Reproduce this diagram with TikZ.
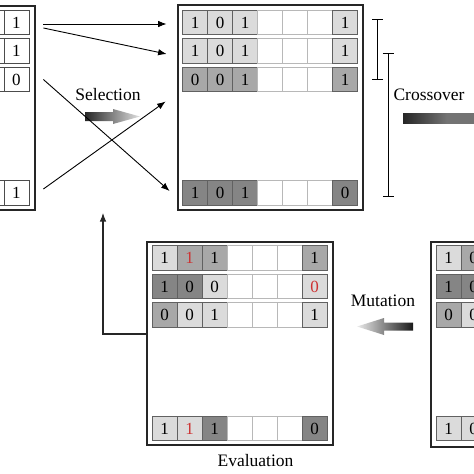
\documentclass[tikz,border=0pt]{standalone}
\usepackage{fontspec}
\setmainfont{Liberation Serif}
\usepackage{xcolor}
\usetikzlibrary{positioning}
\usetikzlibrary{arrows.meta}
\definecolor{lightcell}{gray}{0.86}
\definecolor{midcell}{gray}{0.66}
\definecolor{darkcell}{gray}{0.52}
\definecolor{mutred}{RGB}{205,50,50}
\newcommand{\flip}[1]{\textcolor{mutred}{#1}}
\newcommand{\cellrow}[4]{%
  \foreach \s/\t [count=\c] in {#4} {\node[\s] (#1\c) at ({#2+25*\c}, #3) {\t};}}
\tikzset{
  cell/.style={minimum width=25pt, minimum height=24.5pt, inner sep=0pt, line width=0.8pt,
    font=\fontsize{17}{17}\selectfont},
  wc/.style={cell, draw=black!28, fill=white},
  lc/.style={cell, draw=black!62, fill=lightcell},
  mc/.style={cell, draw=black!62, fill=midcell},
  dc/.style={cell, draw=black!62, fill=darkcell},
  pc/.style={cell, draw=black!70, fill=white},
  panel/.style={draw=black!85, line width=1.3pt, minimum width=185pt, minimum height=204pt, inner sep=0pt},
  optext/.style={font=\fontsize{17.5}{20}\selectfont, anchor=base, inner sep=0pt},
  bracket/.style={line width=1pt, {Bar[width=11pt]}-{Bar[width=11pt]}},
}

\begin{document}
\begin{tikzpicture}[x=1pt, y=-1pt, >={Latex[length=8.5pt,width=6.5pt]}]
		\useasboundingbox (0,0) rectangle (474,474);
		\clip (0,0) rectangle (474,474);
		
		% populations
		\node[panel] (parents) at (-57.5, 108) {};
		\node[panel, minimum height=205pt] (crossed) at (270.5, 107.5) {};
		\node[panel, minimum width=186pt, minimum height=203pt] (evaluated) at (240, 343.5) {};
		\node[panel, minimum height=205pt] (mutated) at (523.5, 344.5) {};
		
		\cellrow{l1}{-158.5}{22.5}{pc/{},pc/{},pc/{},pc/{},pc/{},pc/{},pc/1}
		\cellrow{l2}{-158.5}{51}{pc/{},pc/{},pc/{},pc/{},pc/{},pc/{},pc/1}
		\cellrow{l3}{-158.5}{79.5}{pc/{},pc/{},pc/{},pc/{},pc/{},pc/{},pc/0}
		\cellrow{l4}{-158.5}{193}{pc/{},pc/{},pc/{},pc/{},pc/{},pc/{},pc/1}
		
		\cellrow{t1}{170.2}{22.5}{lc/1,lc/0,lc/1,wc/{},wc/{},wc/{},lc/1}
		\cellrow{t2}{170.2}{51}{lc/1,lc/0,lc/1,wc/{},wc/{},wc/{},lc/1}
		\cellrow{t3}{170.2}{79.5}{mc/0,mc/0,mc/1,wc/{},wc/{},wc/{},mc/1}
		\cellrow{t4}{170.2}{193}{dc/1,dc/0,dc/1,wc/{},wc/{},wc/{},dc/0}
		
		\cellrow{e1}{139.5}{258}{lc/1,mc/\flip{1},mc/1,wc/{},wc/{},wc/{},mc/1}
		\cellrow{e2}{139.5}{286.5}{dc/1,dc/0,lc/0,wc/{},wc/{},wc/{},lc/\flip{0}}
		\cellrow{e3}{139.5}{315}{mc/0,lc/0,lc/1,wc/{},wc/{},wc/{},lc/1}
		\cellrow{e4}{139.5}{428.5}{lc/1,lc/\flip{1},dc/1,wc/{},wc/{},wc/{},dc/0}
		
		\cellrow{m1}{423.5}{258}{lc/1,mc/0}
		\cellrow{m2}{423.5}{286.5}{dc/1,dc/0}
		\cellrow{m3}{423.5}{315}{mc/0,lc/0}
		\cellrow{m4}{423.5}{428.5}{lc/1,lc/0}
		
		% operators
		\node[optext] (sel) at (108, 100) {Selection};
		\node[optext] (cro) at (429, 100.7) {Crossover};
		\node[optext] (mut) at (383, 306) {Mutation};
		\node[optext] (eva) at (255.5, 466.7) {Evaluation};
		
		\shade[left color=black!85, right color=black!12] (85,112) -- (113,112) -- (113,109) -- (140,116.5)
			-- (113,124) -- (113,121) -- (85,121) -- cycle;
		\shade[left color=black!85, right color=black!55, middle color=black!55] (403,113) -- (490,113)
			-- (490,123) -- (403,123) -- cycle;
		\shade[left color=black!8, right color=black!90] (357,326.5) -- (384,318) -- (384,322.5) -- (413,322.5)
			-- (413,330.5) -- (384,330.5) -- (384,335) -- cycle;
		
		% selection
		\draw[->, line width=0.9pt] ([xshift=14pt, yshift=-1.5pt]l17.east) to ([xshift=-15.7pt, yshift=-1.5pt]t11.west);
		\draw[->, line width=0.9pt] ([xshift=14pt, yshift=-5.5pt]l17.east) to ([xshift=-15.7pt, yshift=-3pt]t21.west);
		\draw[->, line width=0.9pt] ([xshift=14pt]l37.east) to ([xshift=-12.7pt, yshift=2pt]t41.west);
		\draw[->, line width=0.9pt] ([xshift=14pt, yshift=4pt]l47.east) to ([xshift=-16.7pt, yshift=-22pt]t31.west);
		
		% crossover pairs
		\draw[bracket] ([xshift=19.5pt, yshift=3.5pt]t17.east) to ([xshift=19.5pt, yshift=-0.5pt]t37.east);
		\draw[bracket] ([xshift=30.3pt, yshift=-2pt]t27.east) to ([xshift=30.3pt, yshift=-4pt]t47.east);
		
		% back to selection
		\coordinate (back) at (103, 213);
		\draw[->, line width=1.1pt, black!85] ([yshift=9.5pt]evaluated.west) -| (back);
	\end{tikzpicture}
\end{document}
